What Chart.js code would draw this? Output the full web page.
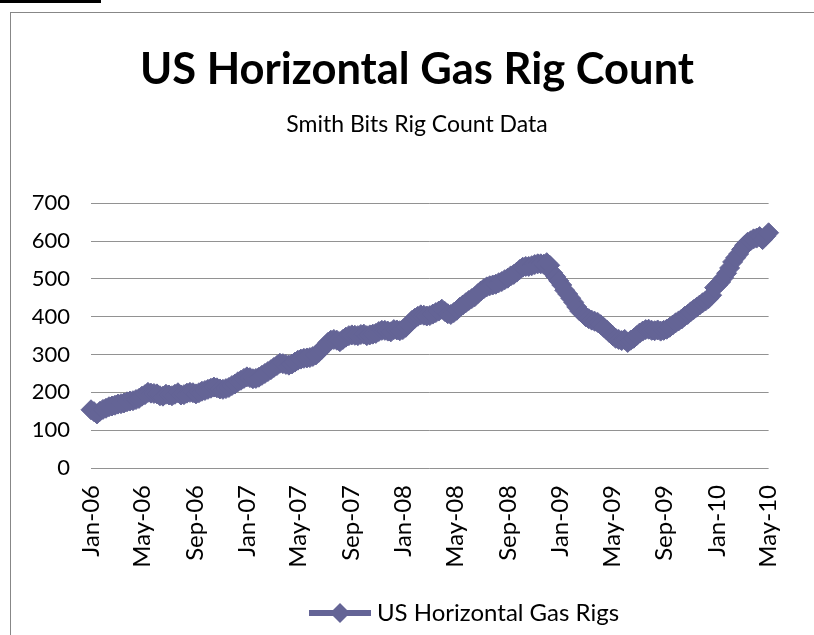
<!DOCTYPE html>
<html>
<head>
<meta charset="utf-8">
<script src="https://cdn.jsdelivr.net/npm/chart.js@4.4.1/dist/chart.umd.min.js"></script>
<style>
  html, body { margin: 0; padding: 0; background: #fff; }
  body { width: 814px; height: 635px; position: relative; overflow: hidden; }
  #cellLine { position: absolute; left: 0; top: 0; width: 101px; height: 3px; background: #000; }
  #frame { position: absolute; left: 10px; top: 12px; width: 840px; height: 660px; border: 1px solid #878787; box-sizing: border-box; }
  #chart { position: absolute; left: 0; top: 0; }
</style>
</head>
<body>
<div id="cellLine"></div>
<div id="frame"></div>
<canvas id="chart" width="814" height="635"></canvas>
<script>
// Weekly rig counts, first report on Fri 6 Jan 2006
const startDate = "2006-01-06";
const rigCounts = [
  154, 149, 143, 150, 155, 158, 162, 164, 166, 169,
  170, 172, 175, 177, 178, 181, 184, 190, 194, 200,
  198, 197, 196, 191, 190, 195, 193, 191, 195, 199,
  193, 194, 198, 200, 199, 196, 199, 203, 205, 208,
  211, 214, 212, 209, 208, 210, 213, 218, 222, 228,
  232, 237, 241, 239, 236, 237, 240, 245, 250, 255,
  260, 266, 271, 277, 276, 274, 272, 275, 280, 285,
  288, 290, 291, 292, 295, 299, 306, 314, 323, 332,
  338, 340, 338, 334, 340, 346, 350, 352, 351, 350,
  353, 354, 350, 352, 354, 356, 361, 364, 364, 362,
  360, 366, 365, 363, 366, 372, 381, 390, 396, 401,
  405, 404, 402, 403, 407, 411, 415, 420, 414, 408,
  406, 411, 417, 425, 431, 437, 443, 448, 453, 461,
  468, 474, 479, 482, 484, 486, 490, 493, 498, 502,
  508, 512, 518, 525, 531, 533, 533, 535, 538, 540,
  540, 539, 543, 536, 516, 506, 495, 484, 470, 460,
  449, 438, 426, 415, 408, 400, 395, 391, 388, 385,
  379, 372, 365, 357, 350, 343, 340, 337, 340, 332,
  338, 343, 350, 357, 362, 366, 367, 364, 363, 365,
  362, 364, 367, 372, 378, 384, 389, 394, 401, 406,
  413, 419, 425, 431, 437, 442, 448, 457, 477, 484,
  492, 503, 515, 529, 545, 556, 566, 578, 589, 597,
  601, 606, 608, 612, 604, 613, 622
];
const tickDates = [
  "2006-01-06", "2006-05-06", "2006-09-06", "2007-01-06", "2007-05-06",
  "2007-09-06", "2008-01-06", "2008-05-06", "2008-09-06", "2009-01-06",
  "2009-05-06", "2009-09-06", "2010-01-06", "2010-05-06"
];
const tickLabels = [
  "Jan-06", "May-06", "Sep-06", "Jan-07", "May-07", "Sep-07", "Jan-08",
  "May-08", "Sep-08", "Jan-09", "May-09", "Sep-09", "Jan-10", "May-10"
];

const LINE = "#646496";
const FONT = "Lato";
const SYMBOL_W = 150;

const DAY = 86400000;
const dayOf = (d) => (Date.parse(d) - Date.parse(startDate)) / DAY;
const tickDays = tickDates.map(dayOf);
const points = rigCounts.map((v, i) => ({ x: i * 7, y: v }));

// legend key: short thick line with a diamond, drawn at the right end
// of the image (image is a bit wider than the box so it sits near the text)
function legendSymbol(w) {
  const c = document.createElement("canvas");
  c.width = w;
  c.height = 22;
  const g = c.getContext("2d");
  g.strokeStyle = LINE;
  g.fillStyle = LINE;
  g.lineWidth = 6;
  g.beginPath();
  g.moveTo(w - 62, 11);
  g.lineTo(w, 11);
  g.stroke();
  g.beginPath();
  g.moveTo(w - 31, 1);
  g.lineTo(w - 21, 11);
  g.lineTo(w - 31, 21);
  g.lineTo(w - 41, 11);
  g.closePath();
  g.fill();
  return c;
}
const symbol = legendSymbol(SYMBOL_W + 12);

const yFont = { family: FONT, size: 22 };
const xFont = { family: FONT, size: 24 };

new Chart(document.getElementById("chart"), {
  type: "line",
  data: {
    datasets: [
      {
        label: "US Horizontal Gas Rigs",
        data: points,
        borderColor: LINE,
        backgroundColor: LINE,
        borderWidth: 6,
        pointStyle: "rectRot",
        pointRadius: 10,
        pointBorderWidth: 1,
        pointBackgroundColor: LINE,
        pointBorderColor: LINE,
        clip: false,
      },
    ],
  },
  options: {
    responsive: false,
    animation: false,
    devicePixelRatio: 1,
    layout: { padding: { left: 20, right: 0, top: 0, bottom: 0 } },
    scales: {
      x: {
        type: "linear",
        min: 0,
        max: (rigCounts.length - 1) * 7,
        afterBuildTicks: (s) => {
          s.ticks = tickDays.map((v) => ({ value: v }));
        },
        ticks: {
          autoSkip: false,
          minRotation: 90,
          maxRotation: 90,
          padding: 17,
          color: "#000",
          font: xFont,
          callback: (v, i) => tickLabels[i],
        },
        grid: { display: false, drawTicks: false },
        border: { display: false },
        afterFit: (s) => {
          s.height = 123;
        },
      },
      y: {
        min: 0,
        max: 700,
        ticks: { stepSize: 100, padding: 21, color: "#000", font: yFont },
        grid: { color: "#929292", drawTicks: false },
        border: { display: false },
        afterFit: (s) => {
          s.width = 71;
        },
      },
      // empty right-hand strip so the plot ends where Excel's does
      pad: {
        position: "right",
        grid: { display: false, drawTicks: false },
        ticks: { display: false },
        border: { display: false },
        afterFit: (s) => {
          s.width = 32;
        },
      },
    },
    plugins: {
      title: {
        display: true,
        text: "US Horizontal Gas Rig Count",
        color: "#000",
        font: { family: FONT, size: 43.5, weight: "bold", lineHeight: 1.2 },
        padding: { top: 44, bottom: 15 },
      },
      subtitle: {
        display: true,
        text: "Smith Bits Rig Count Data",
        color: "#000",
        font: { family: FONT, size: 23, lineHeight: 1.2 },
        padding: { top: 0, bottom: 64.5 },
      },
      legend: {
        position: "bottom",
        labels: {
          usePointStyle: true,
          pointStyleWidth: SYMBOL_W,
          color: "#000",
          font: xFont,
          generateLabels: () => [
            {
              text: "US Horizontal Gas Rigs",
              pointStyle: symbol,
              fillStyle: LINE,
              strokeStyle: LINE,
              lineWidth: 0,
              datasetIndex: 0,
            },
          ],
        },
      },
      tooltip: { enabled: false },
    },
  },
});
</script>
</body>
</html>
